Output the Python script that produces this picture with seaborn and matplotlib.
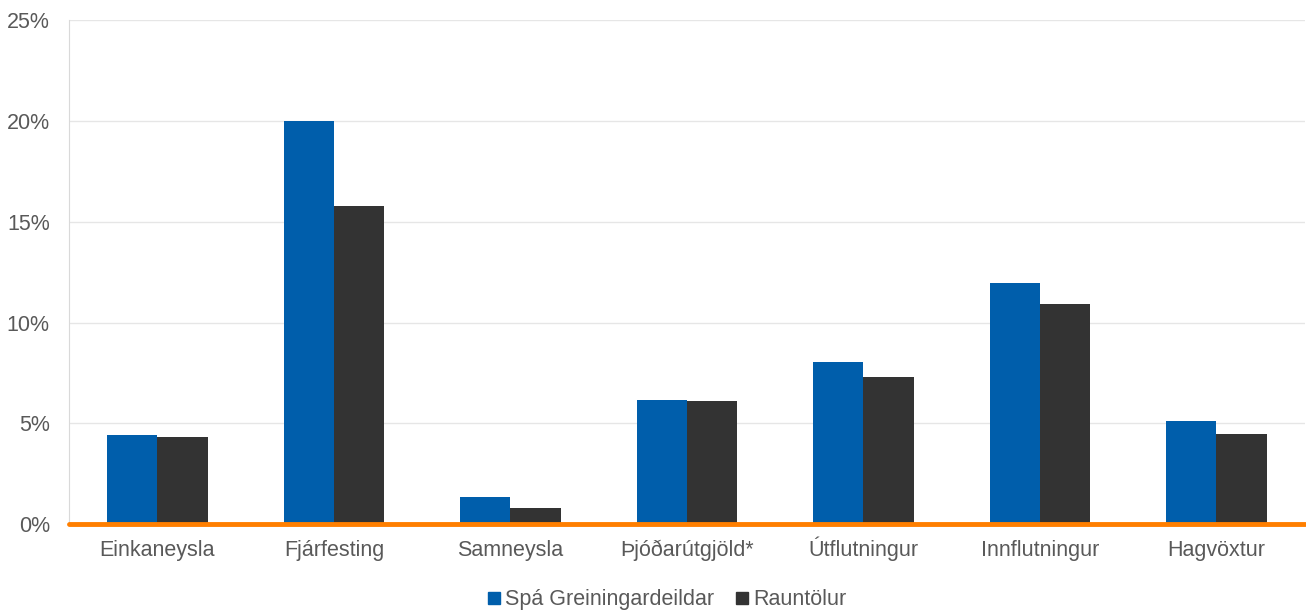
import pandas as pd
import matplotlib.pyplot as plt
import seaborn as sns
from matplotlib.ticker import PercentFormatter
from matplotlib.lines import Line2D

# Data (percent)
categories = ['Einkaneysla', 'Fjárfesting', 'Samneysla', 'Þjóðarútgjöld*',
              'Útflutningur', 'Innflutningur', 'Hagvöxtur']
spa = [4.4, 20.0, 1.35, 6.15, 8.05, 11.95, 5.1]
rauntolur = [4.3, 15.8, 0.8, 6.1, 7.3, 10.9, 4.45]
series_names = ['Spá Greiningardeildar', 'Rauntölur']
colors = ['#005EAB', '#333333']

df = pd.DataFrame({
    'Flokkur': categories * 2,
    'Gildi': spa + rauntolur,
    'Röð': [series_names[0]] * len(categories) + [series_names[1]] * len(categories),
})

sns.set_style('white')
plt.rcParams['font.family'] = ['Liberation Sans', 'DejaVu Sans']

fig = plt.figure(figsize=(13.06, 6.13), dpi=100)
ax = fig.add_axes([0.053, 0.145, 0.946, 0.822])

sns.barplot(data=df, x='Flokkur', y='Gildi', hue='Röð', palette=colors,
            width=0.57, saturation=1, linewidth=0, ax=ax, legend=False)

ax.set_ylim(0, 25)
ax.set_xlim(-0.5, len(categories) - 0.5)
ax.set_yticks([0, 5, 10, 15, 20, 25])
ax.yaxis.set_major_formatter(PercentFormatter(decimals=0))
ax.grid(axis='y', color='#E6E6E6', linewidth=1)
ax.set_axisbelow(True)
ax.set_xlabel('')
ax.set_ylabel('')

for side in ['top', 'right', 'bottom']:
    ax.spines[side].set_visible(False)
ax.spines['left'].set_color('#D9D9D9')
ax.axhline(0, color='#FF7F00', linewidth=3.5, zorder=5, clip_on=False)

ax.tick_params(axis='both', length=0, labelsize=15.5, labelcolor='#595959')
ax.tick_params(axis='x', pad=23)
ax.tick_params(axis='y', pad=14)
for lbl in ax.get_xticklabels():
    lbl.set_verticalalignment('baseline')

handles = [Line2D([], [], marker='s', linestyle='', color=c, markersize=8) for c in colors]
fig.legend(handles, series_names, loc='lower center', bbox_to_anchor=(0.51, -0.027),
           ncol=2, frameon=False, fontsize=15.5, labelcolor='#595959',
           handletextpad=0.1, columnspacing=0.9, handlelength=0.8)

fig.savefig('out.png', dpi=100)
